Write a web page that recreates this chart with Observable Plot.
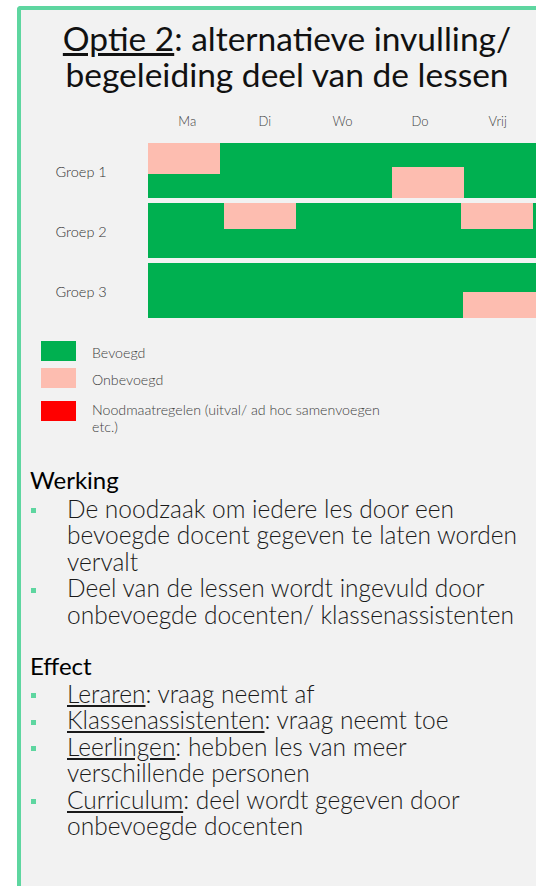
<!DOCTYPE html>
<html>
<head>
<meta charset="utf-8">
<script src="https://cdn.jsdelivr.net/npm/d3@7"></script>
<script src="https://cdn.jsdelivr.net/npm/@observablehq/plot@0.6"></script>
<style>
  html, body { margin: 0; padding: 0; }
  body { width: 536px; height: 886px; overflow: hidden; position: relative; background: #ffffff; font-family: Lato, "Open Sans", sans-serif; }
  #slide { position: absolute; left: 17px; top: 6px; width: 560px; height: 920px; background: #f2f2f2;
           border-left: 4px solid #5ed6a0; border-top: 4px solid #5ed6a0; border-top-left-radius: 4px; box-sizing: border-box; }
  .t { position: absolute; white-space: nowrap; }
  .bullet { position: absolute; width: 5px; height: 5px; background: #5ed6a0; }
  .sw { position: absolute; width: 35px; height: 20px; }
  #chart { position: absolute; left: 0; top: 100px; }
</style>
</head>
<body>
<div id="slide"></div>
<div id="chart"></div>
<script>
// ---- data ----
const days = ["Ma", "Di", "Wo", "Do", "Vrij"];
const groups = ["Groep 1", "Groep 2", "Groep 3"];
const categories = ["Bevoegd", "Onbevoegd", "Noodmaatregelen (uitval/ ad hoc samenvoegen etc.)"];
const categoryColors = ["#00b050", "#fdbdb0", "#ff0000"];
// lessons given by non-qualified staff: group, start/end (in days), top/bottom (share of the group's day)
const onbGroup  = ["Groep 1", "Groep 1", "Groep 2", "Groep 2", "Groep 3"];
const onbStart  = [0.00, 3.14, 0.98, 4.03, 4.06];
const onbEnd    = [0.93, 4.07, 1.91, 4.96, 5.00];
const onbTop    = [0.00, 0.43, 0.00, 0.00, 0.52];
const onbBottom = [0.57, 1.00, 0.48, 0.48, 1.00];

const titleLine1 = ["Optie 2", ": alternatieve invulling/"];
const titleLine2 = "begeleiding deel van de lessen";
const werkingTitle = "Werking";
const werkingBullets = [
  ["De noodzaak om iedere les door een", "bevoegde docent gegeven te laten worden", "vervalt"],
  ["Deel van de lessen wordt ingevuld door", "onbevoegde docenten/ klassenassistenten"]
];
const effectTitle = "Effect";
const effectBullets = [
  [["Leraren", ": vraag neemt af"]],
  [["Klassenassistenten", ": vraag neemt toe"]],
  [["Leerlingen", ": hebben les van meer"], ["", "verschillende personen"]],
  [["Curriculum", ": deel wordt gegeven door"], ["", "onbevoegde docenten"]]
];
const legendLines = [["Bevoegd"], ["Onbevoegd"], ["Noodmaatregelen (uitval/ ad hoc samenvoegen", "etc.)"]];

// ---- chart ----
const bevoegd = [];
groups.forEach(g => days.forEach((d, i) => bevoegd.push({group: g, x1: i, x2: i + 1, y1: 0, y2: 1, cat: categories[0]})));
const onbevoegd = onbGroup.map((g, i) => ({group: g, x1: onbStart[i], x2: onbEnd[i], y1: onbTop[i], y2: onbBottom[i], cat: categories[1]}));

const chart = Plot.plot({
  width: 536,
  height: 230,
  marginLeft: 148,
  marginRight: 0,
  marginTop: 42,
  marginBottom: 10,
  style: {background: "none", fontFamily: "Lato, sans-serif", overflow: "visible"},
  x: {domain: [0, 5], axis: null},
  y: {domain: [0, 1], reverse: true, axis: null},
  fy: {domain: groups, paddingInner: 0.08, paddingOuter: 0},
  color: {domain: categories, range: categoryColors},
  marks: [
    Plot.rect(bevoegd, {fy: "group", x1: "x1", x2: "x2", y1: "y1", y2: "y2", fill: "cat", shapeRendering: "crispEdges"}),
    Plot.rect(onbevoegd, {fy: "group", x1: "x1", x2: "x2", y1: "y1", y2: "y2", fill: "cat", shapeRendering: "crispEdges"}),
    Plot.axisX(days.map((d, i) => i + 0.5), {anchor: "top", tickSize: 0, tickPadding: 18, tickFormat: v => days[Math.floor(v)], fontSize: 13, fontWeight: 300, fill: "#404040", label: null}),
    Plot.axisFy({anchor: "left", tickSize: 0, tickPadding: 93, textAnchor: "start", fontSize: 14.5, fontWeight: 300, fill: "#333", label: null, dy: 1})
  ]
});
document.getElementById("chart").appendChild(chart);

// ---- text helper (Lato: ascent 0.987em, content box 1.2em) ----
function place(html, x, baseline, size, opts = {}) {
  const lh = opts.lineHeight || size * 1.2;
  const el = document.createElement("div");
  el.className = "t";
  el.innerHTML = html;
  el.style.fontSize = size + "px";
  el.style.lineHeight = lh + "px";
  el.style.top = (baseline - ((lh - size * 1.2) / 2 + size * 0.987)) + "px";
  el.style.left = x + "px";
  if (opts.center) { el.style.width = opts.width + "px"; el.style.textAlign = "center"; }
  el.style.color = opts.color || "#1a1a1a";
  if (opts.weight) el.style.fontWeight = opts.weight;
  document.body.appendChild(el);
  return el;
}
function bullet(y) {
  const b = document.createElement("div");
  b.className = "bullet";
  b.style.left = "31px";
  b.style.top = y + "px";
  document.body.appendChild(b);
}

// title
place(`<u>${titleLine1[0]}</u>${titleLine1[1]}`, 40, 51, 33.5, {center: true, width: 494, color: "#111"});
place(titleLine2, 40, 87, 33.5, {center: true, width: 494, color: "#111"});

// legend
const legendSwatchTop = [341, 368, 401];
const legendBase = [358, 385, 415];
legendLines.forEach((lines, i) => {
  const s = document.createElement("div");
  s.className = "sw";
  s.style.left = "41px";
  s.style.top = legendSwatchTop[i] + "px";
  s.style.background = categoryColors[i];
  document.body.appendChild(s);
  place(lines.join("<br>"), 92, legendBase[i], 14.2, {color: "#404040", weight: 300, lineHeight: 17.2});
});

// Werking
const bodySize = 24.5;
place(werkingTitle, 30, 490, 24, {color: "#000"});
let bl = 518;
werkingBullets.forEach(lines => {
  bullet(bl - 10);
  lines.forEach(l => { place(l, 67, bl, bodySize, {weight: 300}); bl += 26.5; });
});

// Effect
place(effectTitle, 30, 676, 24, {color: "#000"});
bl = 703;
effectBullets.forEach(lines => {
  bullet(bl - 10);
  lines.forEach(([u, rest]) => { place((u ? `<u>${u}</u>` : "") + rest, 67, bl, bodySize, {weight: 300}); bl += 26.5; });
});
</script>
</body>
</html>
